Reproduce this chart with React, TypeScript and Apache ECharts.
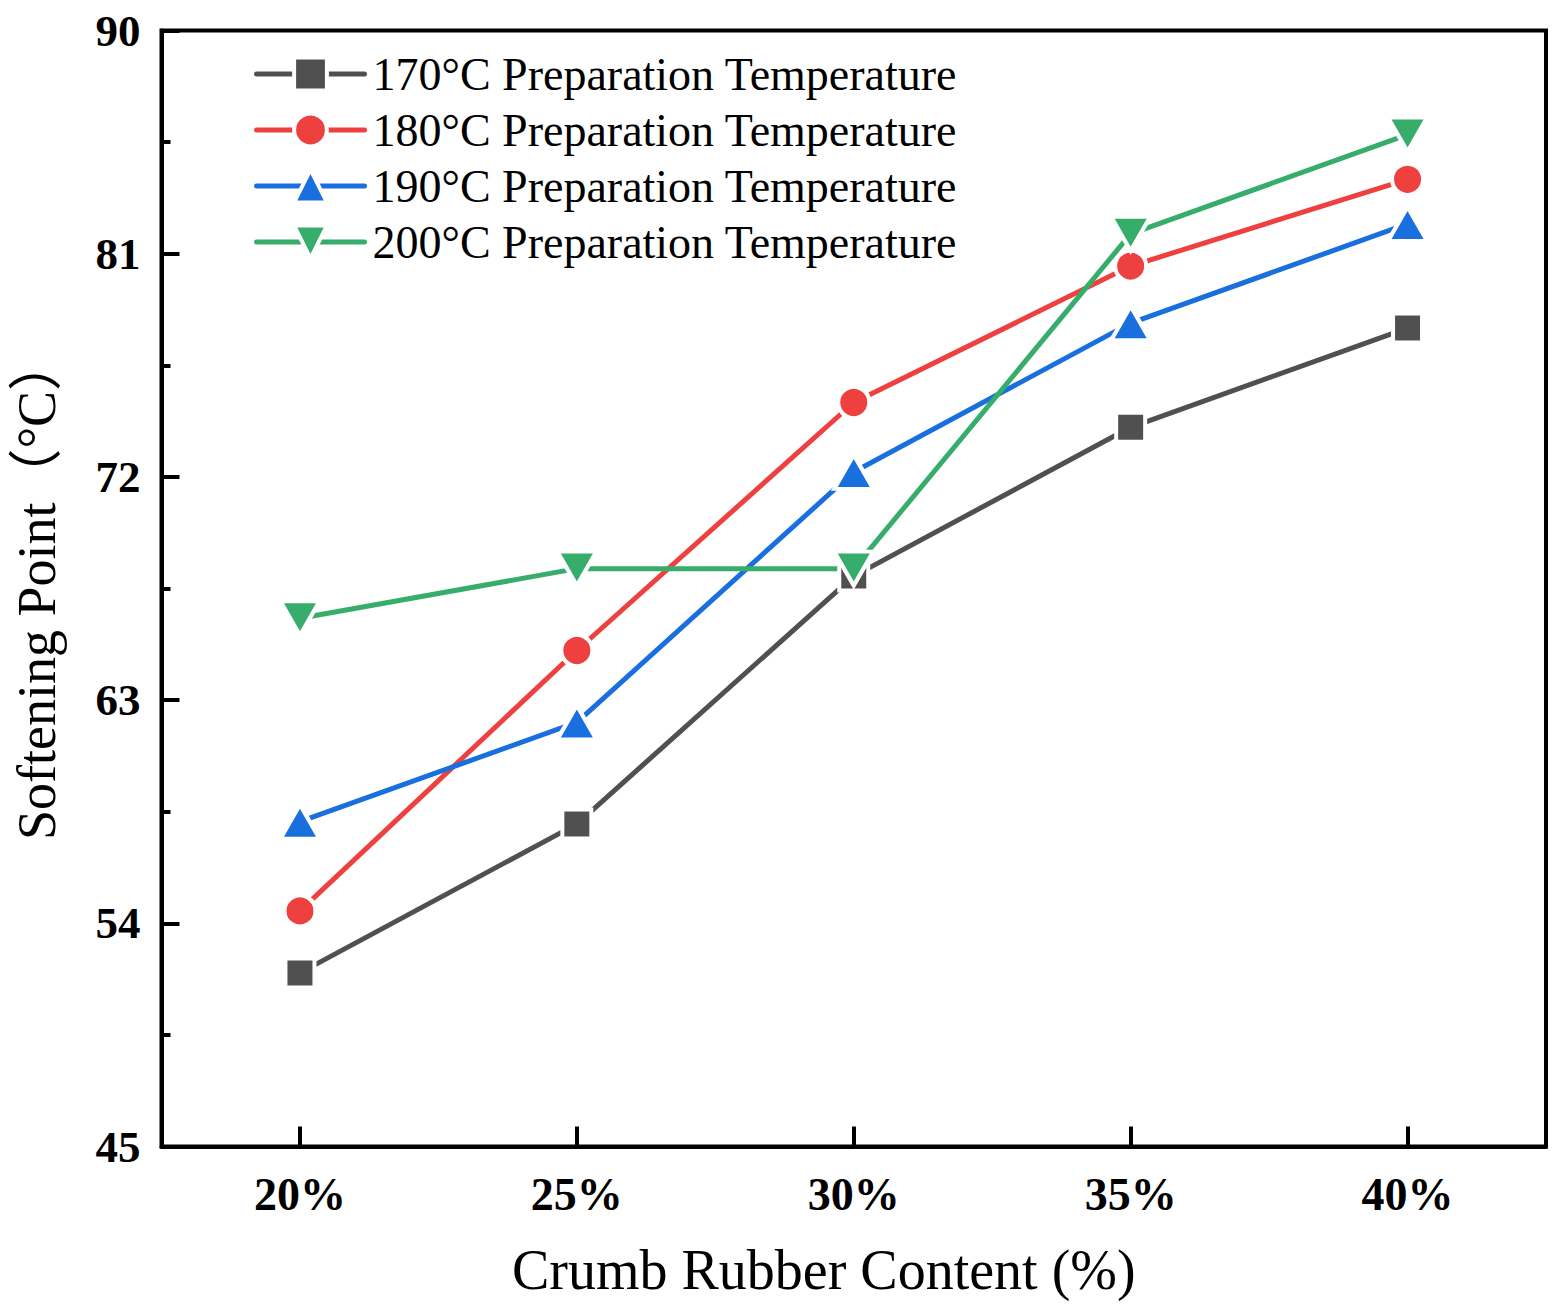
import React, { useEffect, useRef } from "react";
import * as echarts from "echarts";

// crumb rubber content categories
const categories = ["20%", "25%", "30%", "35%", "40%"];

// softening point (°C) for each preparation temperature
const temp170 = [52.0, 58.0, 68.0, 74.0, 78.0];
const temp180 = [54.5, 65.0, 75.0, 80.5, 84.0];
const temp190 = [58.1, 62.1, 72.2, 78.2, 82.2];
const temp200 = [66.3, 68.3, 68.3, 81.8, 85.8];

const seriesNames = [
  "170°C Preparation Temperature",
  "180°C Preparation Temperature",
  "190°C Preparation Temperature",
  "200°C Preparation Temperature",
];

const FONT = "'Times New Roman', 'Liberation Serif', 'Noto Sans CJK SC', serif";

const App: React.FC = () => {
  const chartRef = useRef<HTMLDivElement>(null);

  useEffect(() => {
    if (!chartRef.current) return;
    const chart = echarts.init(chartRef.current, undefined, { renderer: "svg" });

    // white marker border gives the small gap between line and marker
    const makeSeries = (
      name: string,
      data: number[],
      color: string,
      symbol: string,
      symbolSize: number | number[],
      symbolRotate = 0
    ) => ({
      name,
      type: "line",
      data,
      symbol,
      symbolSize,
      symbolRotate,
      showAllSymbol: true,
      lineStyle: { color, width: 5, cap: "round" },
      itemStyle: { color, borderColor: "#fff", borderWidth: 4 },
      emphasis: { disabled: true },
    });

    chart.setOption({
      animation: false,
      backgroundColor: "#fff",
      grid: {
        left: 161.5,
        right: 18,
        top: 30.5,
        bottom: 166.5,
        show: true,
        borderColor: "#000",
        borderWidth: 4,
        containLabel: false,
      },
      legend: {
        left: 254,
        top: 51,
        orient: "vertical",
        padding: 0,
        itemWidth: 108,
        itemHeight: 41,
        itemGap: 10,
        lineStyle: { width: 5, cap: "round" },
        itemStyle: { borderColor: "#fff", borderWidth: 4 },
        textStyle: {
          fontFamily: FONT,
          fontSize: 46,
          color: "#000",
          padding: [0, 0, 0, 3],
        },
        data: seriesNames,
      },
      xAxis: {
        type: "category",
        data: categories,
        boundaryGap: true,
        name: "Crumb Rubber Content (%)",
        nameLocation: "middle",
        nameGap: 95,
        nameTextStyle: {
          fontFamily: FONT,
          fontSize: 56,
          color: "#000",
          padding: [0, 60, 0, 0],
        },
        axisLine: { show: true, lineStyle: { color: "#000", width: 4 } },
        axisTick: {
          show: true,
          alignWithLabel: true,
          inside: true,
          length: 20,
          lineStyle: { color: "#000", width: 4 },
        },
        axisLabel: {
          fontFamily: FONT,
          fontSize: 46,
          fontWeight: "bold",
          color: "#000",
          margin: 25,
        },
        splitLine: { show: false },
      },
      yAxis: {
        type: "value",
        min: 45,
        max: 90,
        interval: 9,
        name: "Softening Point（°C）",
        nameLocation: "middle",
        nameGap: 98,
        nameTextStyle: {
          fontFamily: FONT,
          fontSize: 54,
          color: "#000",
        },
        axisLine: { show: true, lineStyle: { color: "#000", width: 4 } },
        axisTick: {
          show: true,
          inside: true,
          length: 18,
          lineStyle: { color: "#000", width: 4 },
        },
        minorTick: {
          show: true,
          splitNumber: 2,
          length: 9,
          lineStyle: { color: "#000", width: 4 },
        },
        axisLabel: {
          fontFamily: FONT,
          fontSize: 45,
          fontWeight: "bold",
          color: "#000",
          margin: 21,
        },
        splitLine: { show: false },
        minorSplitLine: { show: false },
      },
      series: [
        makeSeries(seriesNames[0], temp170, "#505050", "rect", 29),
        makeSeries(seriesNames[1], temp180, "#ef4040", "circle", 31),
        makeSeries(seriesNames[2], temp190, "#1a6fdf", "triangle", [39, 34]),
        makeSeries(seriesNames[3], temp200, "#37ad6b", "triangle", [39, 34], 180),
      ],
    });

    return () => {
      chart.dispose();
    };
  }, []);

  return (
    <div
      ref={chartRef}
      style={{
        position: "absolute",
        left: 0,
        top: 0,
        width: 1564,
        height: 1313,
      }}
    />
  );
};

export default App;
